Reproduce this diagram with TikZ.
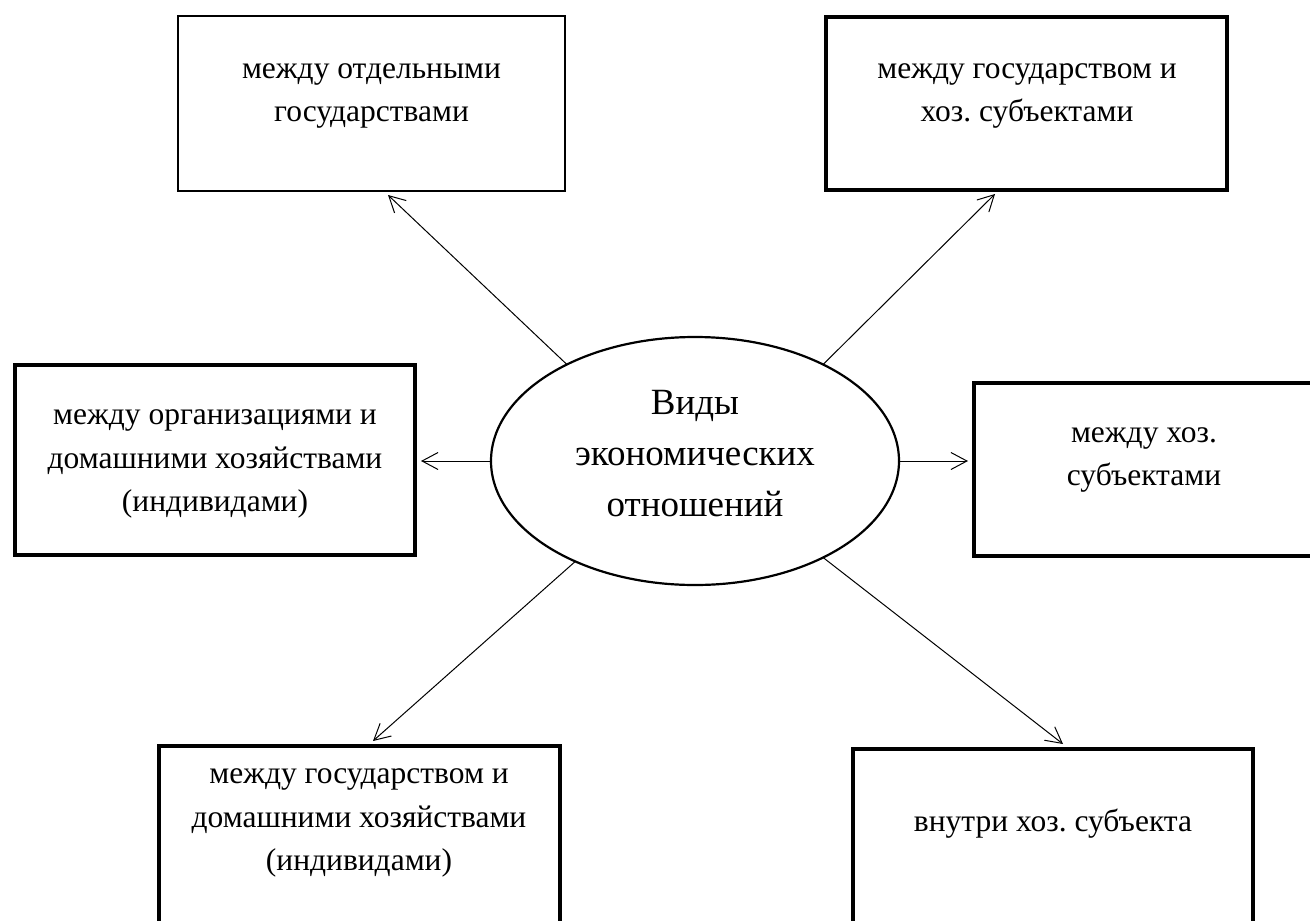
\documentclass[tikz,border=0pt]{standalone}
\usepackage{fontspec}
\setmainfont{Liberation Serif}
\frenchspacing
\usetikzlibrary{shapes.geometric,arrows.meta,calc}
\tikzset{
  box/.style={draw, line width=4.5pt, rectangle, inner sep=0pt, outer sep=0pt},
  thinbox/.style={draw, line width=2.5pt, rectangle, inner sep=0pt, outer sep=0pt},
  lbl/.style={align=center, font=\fontsize{31.5}{43.5}\selectfont, inner sep=0pt},
  biglbl/.style={align=center, font=\fontsize{37}{51}\selectfont, inner sep=0pt},
  arr/.style={-{Straight Barb[length=16pt,width=17pt]}, line width=1pt},
}
\begin{document}
\begin{tikzpicture}[x=1pt,y=-1pt]
\useasboundingbox (0,0) rectangle (1310,921);
\clip (0,0) rectangle (1310,921);
% boxes
\node[thinbox, minimum width=387pt, minimum height=175pt] (b1) at (371.5,103.5) {};
\node[box, minimum width=401pt, minimum height=173pt] (b2) at (1026.5,103.5) {};
\node[box, minimum width=400pt, minimum height=190pt] (b3) at (215,460) {};
\node[box, minimum width=342pt, minimum height=173pt] (b4) at (1145,469.5) {};
\node[box, minimum width=401pt, minimum height=194pt] (b5) at (359.5,843) {};
\node[box, minimum width=400pt, minimum height=191pt] (b6) at (1053,844.5) {};
% texts
\node[lbl] (t1) at (371.5,96) {между отдельными\\государствами};
\node[lbl] (t2) at (1027,96) {между государством и\\хоз. субъектами};
\node[lbl] (t3) at (215,464) {между организациями и\\домашними хозяйствами\\(индивидами)};
\node[lbl] (t4) at (1144,460) {между хоз.\\субъектами};
\node[lbl] (t5) at (359,823) {между государством и\\домашними хозяйствами\\(индивидами)};
\node[lbl] (t6) at (1053,824) {внутри хоз. субъекта};
% ellipse
\node[ellipse, draw, line width=2.2pt, minimum width=408pt, minimum height=248pt, inner sep=0pt, outer sep=0pt] (ell) at (695,461) {};
\node[biglbl] (et) at (695,454) {Виды\\экономических\\отношений};
% arrows
\draw[arr] (ell.143.6) -- ([xshift=210pt,yshift=-4pt]b1.south west);
\draw[arr] (ell.37.2) -- ([xshift=169pt,yshift=-4pt]b2.south west);
\draw[arr, shorten >=6pt] (ell.west) -- (ell.west -| b3.east);
\draw[arr, shorten >=6pt] (ell.east) -- (ell.east -| b4.west);
\draw[arr] (ell.220) -- ([xshift=214pt,yshift=5pt]b5.north west);
\draw[arr] (ell.323.6) -- ([xshift=210pt,yshift=5pt]b6.north west);
\end{tikzpicture}
\end{document}
